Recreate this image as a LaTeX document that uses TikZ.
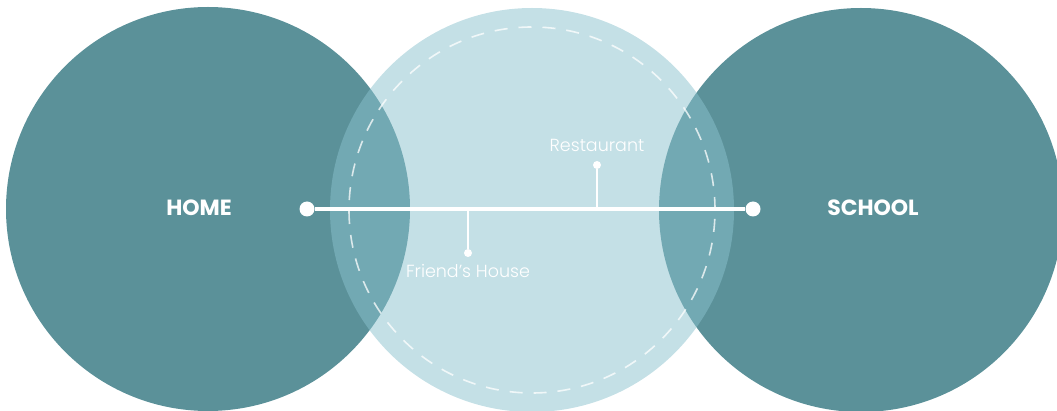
\documentclass[tikz,border=0pt]{standalone}
\usepackage{fontspec}
\setmainfont{Poppins}
\newfontfamily\thinfont{Poppins Light}
\usetikzlibrary{positioning}
\definecolor{deepteal}{HTML}{5B9199}
\definecolor{paleteal}{HTML}{8AC1CD}
\begin{document}
\begin{tikzpicture}[x=1pt,y=-1pt,
        zone/.style={circle,inner sep=0pt,minimum size=404pt},
        hub/.style={circle,fill=white,inner sep=0pt,minimum size=15pt},
        stop/.style={circle,fill=white,inner sep=0pt,minimum size=8pt},
        route/.style={white,line width=3.5pt},
        stem/.style={white,line width=2pt},
        place/.style={text=white,font=\bfseries\fontsize{22}{24}\selectfont},
        spot/.style={text=white,font=\thinfont\fontsize{17.5}{19}\selectfont,inner sep=1pt}]
  \useasboundingbox (0,0) rectangle (1057,411);
  % the three areas
  \node[zone,fill=deepteal] (home) at (208,209) {};
  \node[zone,fill=deepteal] (school) at (861,210) {};
  \node[zone,fill=paleteal,fill opacity=.5] (between) at (532,210) {};
  \draw[white,opacity=.75,line width=1.6pt,dash pattern=on 13pt off 11pt] (between.center) circle[radius=183pt];
  \node[place] (homelbl) at (199,208) {HOME};
  \node[place] (schoollbl) at (873,208) {SCHOOL};
  % the way
  \node[hub] (start) at (307,209) {};
  \node[hub] (finish) at (753,209) {};
  \draw[route] (start) -- (finish);
  \coordinate (rfoot) at (597,209);
  \node[stop] (rdot) at (597,165) {};
  \draw[stem] (rfoot) -- (rdot);
  \node[spot,above=8pt of rdot] (restaurant) {Restaurant};
  \coordinate (ffoot) at (468,209);
  \node[stop] (fdot) at (468,253) {};
  \draw[stem] (ffoot) -- (fdot);
  \node[spot,below=6pt of fdot] (friend) {Friend’s House};
\end{tikzpicture}
\end{document}
